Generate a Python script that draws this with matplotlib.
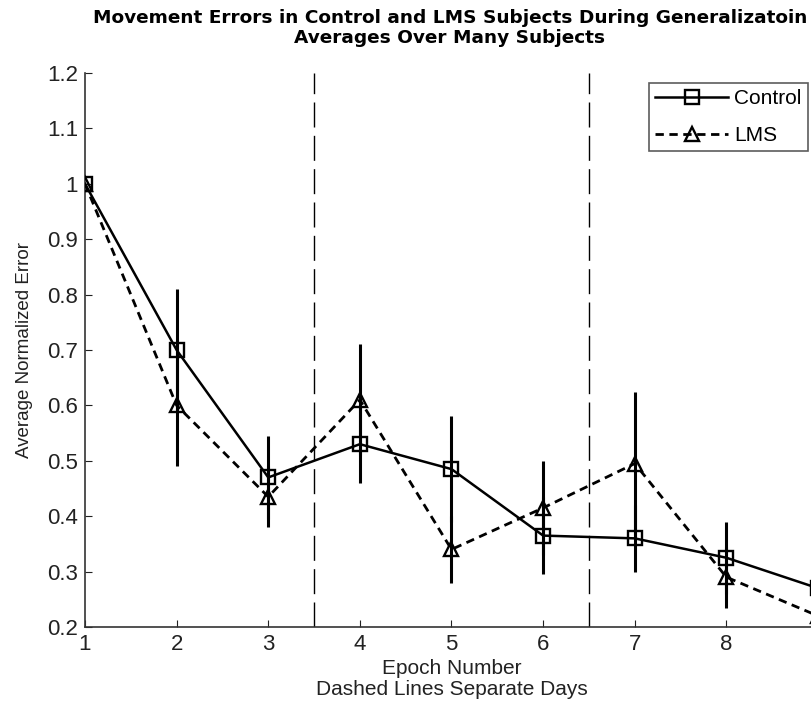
import matplotlib
matplotlib.use("Agg")
import matplotlib.pyplot as plt

epochs = [1, 2, 3, 4, 5, 6, 7, 8, 9]
control = [1.0, 0.70, 0.47, 0.53, 0.485, 0.365, 0.36, 0.325, 0.27]
control_err = [0.0, 0.11, 0.075, 0.07, 0.095, 0.07, 0.06, 0.065, 0.05]
lms = [1.0, 0.60, 0.435, 0.61, 0.34, 0.415, 0.495, 0.29, 0.22]
lms_err = [0.0, 0.11, 0.055, 0.10, 0.06, 0.085, 0.13, 0.055, 0.05]
day_breaks = [3.5, 6.5]
yticks = [0.2, 0.3, 0.4, 0.5, 0.6, 0.7, 0.8, 0.9, 1.0, 1.1, 1.2]
ytick_labels = ["0.2", "0.3", "0.4", "0.5", "0.6", "0.7", "0.8", "0.9", "1", "1.1", "1.2"]
xticks = [1, 2, 3, 4, 5, 6, 7, 8]

plt.rcParams['font.family'] = ["Liberation Sans", "DejaVu Sans"]

fig = plt.figure(figsize=(8.12, 7.13), dpi=100)
ax = fig.add_axes([85/812, 86/713, (818-85)/812, (627-73)/713])

for xb in day_breaks:
    ax.axvline(xb, color="black", lw=1.0, dashes=(18, 6), zorder=1)

ax.errorbar(epochs, control, yerr=control_err, fmt="none", ecolor="black",
            elinewidth=2.2, capsize=0, zorder=2)
ax.errorbar(epochs, lms, yerr=lms_err, fmt="none", ecolor="black",
            elinewidth=2.2, capsize=0, zorder=2)
ax.plot(epochs, control, color="black", lw=1.8, marker="s", markersize=9.5,
        markerfacecolor="none", markeredgewidth=1.7, label="Control", zorder=3)
ax.plot(epochs, lms, color="black", lw=2.0, dashes=(3, 2), marker="^", markersize=9.5,
        markerfacecolor="none", markeredgewidth=1.7, label="LMS", zorder=3)

ax.set_xlim(1, 9)
ax.set_ylim(0.2, 1.2)
ax.set_yticks(yticks)
ax.set_yticklabels(ytick_labels)
ax.set_xticks(xticks)
ax.tick_params(direction="in", length=5, labelsize=16, colors="#222222", pad=5)
for s in ["top", "right"]:
    ax.spines[s].set_visible(False)
for s in ["left", "bottom"]:
    ax.spines[s].set_color("#333333")
    ax.spines[s].set_linewidth(1.2)

ax.set_xlabel("Epoch Number\nDashed Lines Separate Days", fontsize=15, color="#222222",
              labelpad=3, linespacing=1.15)
ax.set_ylabel("Average Normalized Error", fontsize=13.5, color="#222222", labelpad=10)
fig.text(450/812, 1 - 28/713,
         "Movement Errors in Control and LMS Subjects During Generalizatoin\nAverages Over Many Subjects",
         ha="center", va="center", fontsize=13.3, fontweight="bold",
         family=["DejaVu Sans"], linespacing=1.2)

leg = ax.legend(loc="upper right", bbox_to_anchor=(808/812, 1 - 83/713), bbox_transform=fig.transFigure,
                fontsize=15, frameon=True, fancybox=False, handlelength=3.5, borderpad=0.3,
                handletextpad=0.3, labelspacing=0.85, borderaxespad=0)
leg.get_frame().set_edgecolor("#333333")
leg.get_frame().set_linewidth(1.2)

fig.savefig("out.png", dpi=100)
